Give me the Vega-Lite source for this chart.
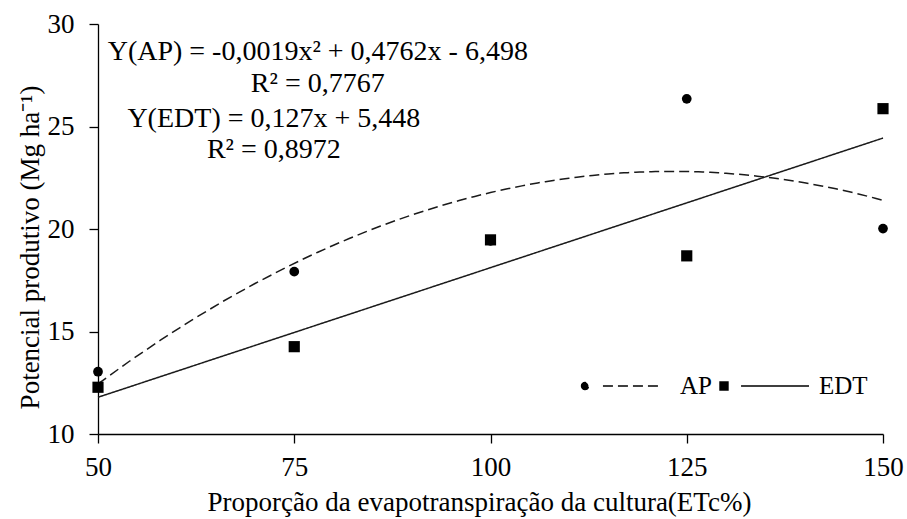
{
  "$schema": "https://vega.github.io/schema/vega-lite/v6.json",
  "width": 785,
  "height": 410,
  "autosize": "none",
  "padding": {"left": 98, "top": 24, "right": 24, "bottom": 85},
  "background": "white",
  "config": {
    "font": "Liberation Serif",
    "view": {"stroke": null},
    "axis": {
      "grid": false,
      "domainColor": "black",
      "domainWidth": 1.3,
      "tickColor": "black",
      "tickWidth": 1.3,
      "tickSize": 9,
      "labelFont": "Liberation Serif",
      "labelFontSize": 27,
      "labelColor": "black",
      "labelFlush": false,
      "labelOverlap": false,
      "titleFont": "Liberation Serif",
      "titleFontSize": 27,
      "titleFontWeight": "normal",
      "titleColor": "black"
    }
  },
  "datasets": {
    "pts": [
      {"etc": 50, "serie": "AP", "val": 13.04},
      {"etc": 75, "serie": "AP", "val": 17.92},
      {"etc": 100, "serie": "AP", "val": 19.42},
      {"etc": 125, "serie": "AP", "val": 26.35},
      {"etc": 150, "serie": "AP", "val": 20.02},
      {"etc": 50, "serie": "EDT", "val": 12.28},
      {"etc": 75, "serie": "EDT", "val": 14.26},
      {"etc": 100, "serie": "EDT", "val": 19.47},
      {"etc": 125, "serie": "EDT", "val": 18.69},
      {"etc": 150, "serie": "EDT", "val": 25.87}
    ],
    "eq": [
      {"etc": 78.0, "val": 28.26, "label": "Y(AP) = -0,0019x² + 0,4762x - 6,498"},
      {"etc": 78.0, "val": 26.69, "label": "R² = 0,7767"},
      {"etc": 72.4, "val": 24.99, "label": "Y(EDT) = 0,127x + 5,448"},
      {"etc": 72.4, "val": 23.47, "label": "R² = 0,8972"}
    ]
  },
  "encoding": {
    "x": {
      "field": "etc",
      "type": "quantitative",
      "scale": {"domain": [50, 150], "nice": false, "zero": false},
      "axis": {
        "values": [50, 75, 100, 125, 150],
        "labelPadding": 11,
        "title": "Proporção da evapotranspiração da cultura(ETc%)",
        "titleX": 381,
        "titleY": 76,
        "titleAlign": "center",
        "titleBaseline": "alphabetic"
      }
    },
    "y": {
      "field": "val",
      "type": "quantitative",
      "scale": {"domain": [10, 30], "nice": false, "zero": false},
      "axis": {
        "values": [10, 15, 20, 25, 30],
        "labelPadding": 15,
        "title": "Potencial produtivo (Mg ha⁻¹)",
        "titleX": -60,
        "titleY": 223,
        "titleAngle": -90,
        "titleAlign": "center",
        "titleBaseline": "alphabetic"
      }
    }
  },
  "layer": [
    {
      "data": {"name": "pts"},
      "transform": [
        {"filter": "datum.serie === 'AP'"},
        {"regression": "val", "on": "etc", "method": "poly", "order": 2, "extent": [50, 150], "groupby": ["serie"]}
      ],
      "mark": {"type": "line", "color": "#1a1a1a", "strokeWidth": 1.5},
      "encoding": {
        "strokeDash": {
          "field": "serie",
          "type": "nominal",
          "scale": {"domain": ["AP"], "range": [[10, 5]]},
          "legend": {
            "orient": "none",
            "legendX": 481,
            "legendY": 316,
            "direction": "horizontal",
            "title": null,
            "padding": 0,
            "symbolType": "M-0.967,0A0.078,0.078,0,1,0,-0.811,0A0.078,0.078,0,1,0,-0.967,0ZM-0.49,0L0.8,0",
            "symbolSize": 8100,
            "symbolStrokeWidth": 1.4,
            "symbolStrokeColor": "black",
            "symbolFillColor": "black",
            "labelFont": "Liberation Serif",
            "labelFontSize": 25,
            "labelColor": "black",
            "labelOffset": 9,
            "encode": {
              "symbols": {
                "update": {
                  "fill": {"value": "black"},
                  "stroke": {"value": "black"},
                  "strokeWidth": {"value": 1.4},
                  "strokeDash": {"value": [8, 4]},
                  "opacity": {"value": 1}
                }
              }
            }
          }
        }
      }
    },
    {
      "data": {"name": "pts"},
      "transform": [
        {"filter": "datum.serie === 'EDT'"},
        {"regression": "val", "on": "etc", "method": "linear", "extent": [50, 150], "groupby": ["serie"]}
      ],
      "mark": {"type": "line", "color": "#1a1a1a", "strokeWidth": 1.5},
      "encoding": {
        "strokeDash": {
          "field": "serie",
          "type": "nominal",
          "scale": {"domain": ["EDT"], "range": [[1, 0]]},
          "legend": {
            "orient": "none",
            "legendX": 620,
            "legendY": 316,
            "direction": "horizontal",
            "title": null,
            "padding": 0,
            "symbolType": "M-0.978,-0.089L-0.8,-0.089L-0.8,0.089L-0.978,0.089ZM-0.51,0L1,0",
            "symbolSize": 8100,
            "symbolStrokeWidth": 1.4,
            "symbolStrokeColor": "black",
            "symbolFillColor": "black",
            "labelFont": "Liberation Serif",
            "labelFontSize": 25,
            "labelColor": "black",
            "labelOffset": 9,
            "encode": {
              "symbols": {
                "update": {
                  "fill": {"value": "black"},
                  "stroke": {"value": "black"},
                  "strokeWidth": {"value": 1.4},
                  "strokeDash": {"value": [1, 0]},
                  "opacity": {"value": 1}
                }
              }
            }
          }
        }
      }
    },
    {
      "data": {"name": "pts"},
      "mark": {"type": "point", "filled": true, "color": "black", "opacity": 1, "strokeWidth": 0},
      "encoding": {
        "shape": {
          "field": "serie",
          "type": "nominal",
          "scale": {"domain": ["AP", "EDT"], "range": ["circle", "square"]},
          "legend": null
        },
        "size": {
          "field": "serie",
          "type": "ordinal",
          "scale": {"domain": ["AP", "EDT"], "range": [95, 125]},
          "legend": null
        }
      }
    },
    {
      "data": {"name": "eq"},
      "mark": {
        "type": "text",
        "font": "Liberation Serif",
        "fontSize": 28,
        "color": "black",
        "align": "center",
        "baseline": "alphabetic"
      },
      "encoding": {
        "text": {"field": "label", "type": "nominal"}
      }
    }
  ],
  "resolve": {
    "scale": {"strokeDash": "independent"},
    "legend": {"strokeDash": "independent"}
  }
}
